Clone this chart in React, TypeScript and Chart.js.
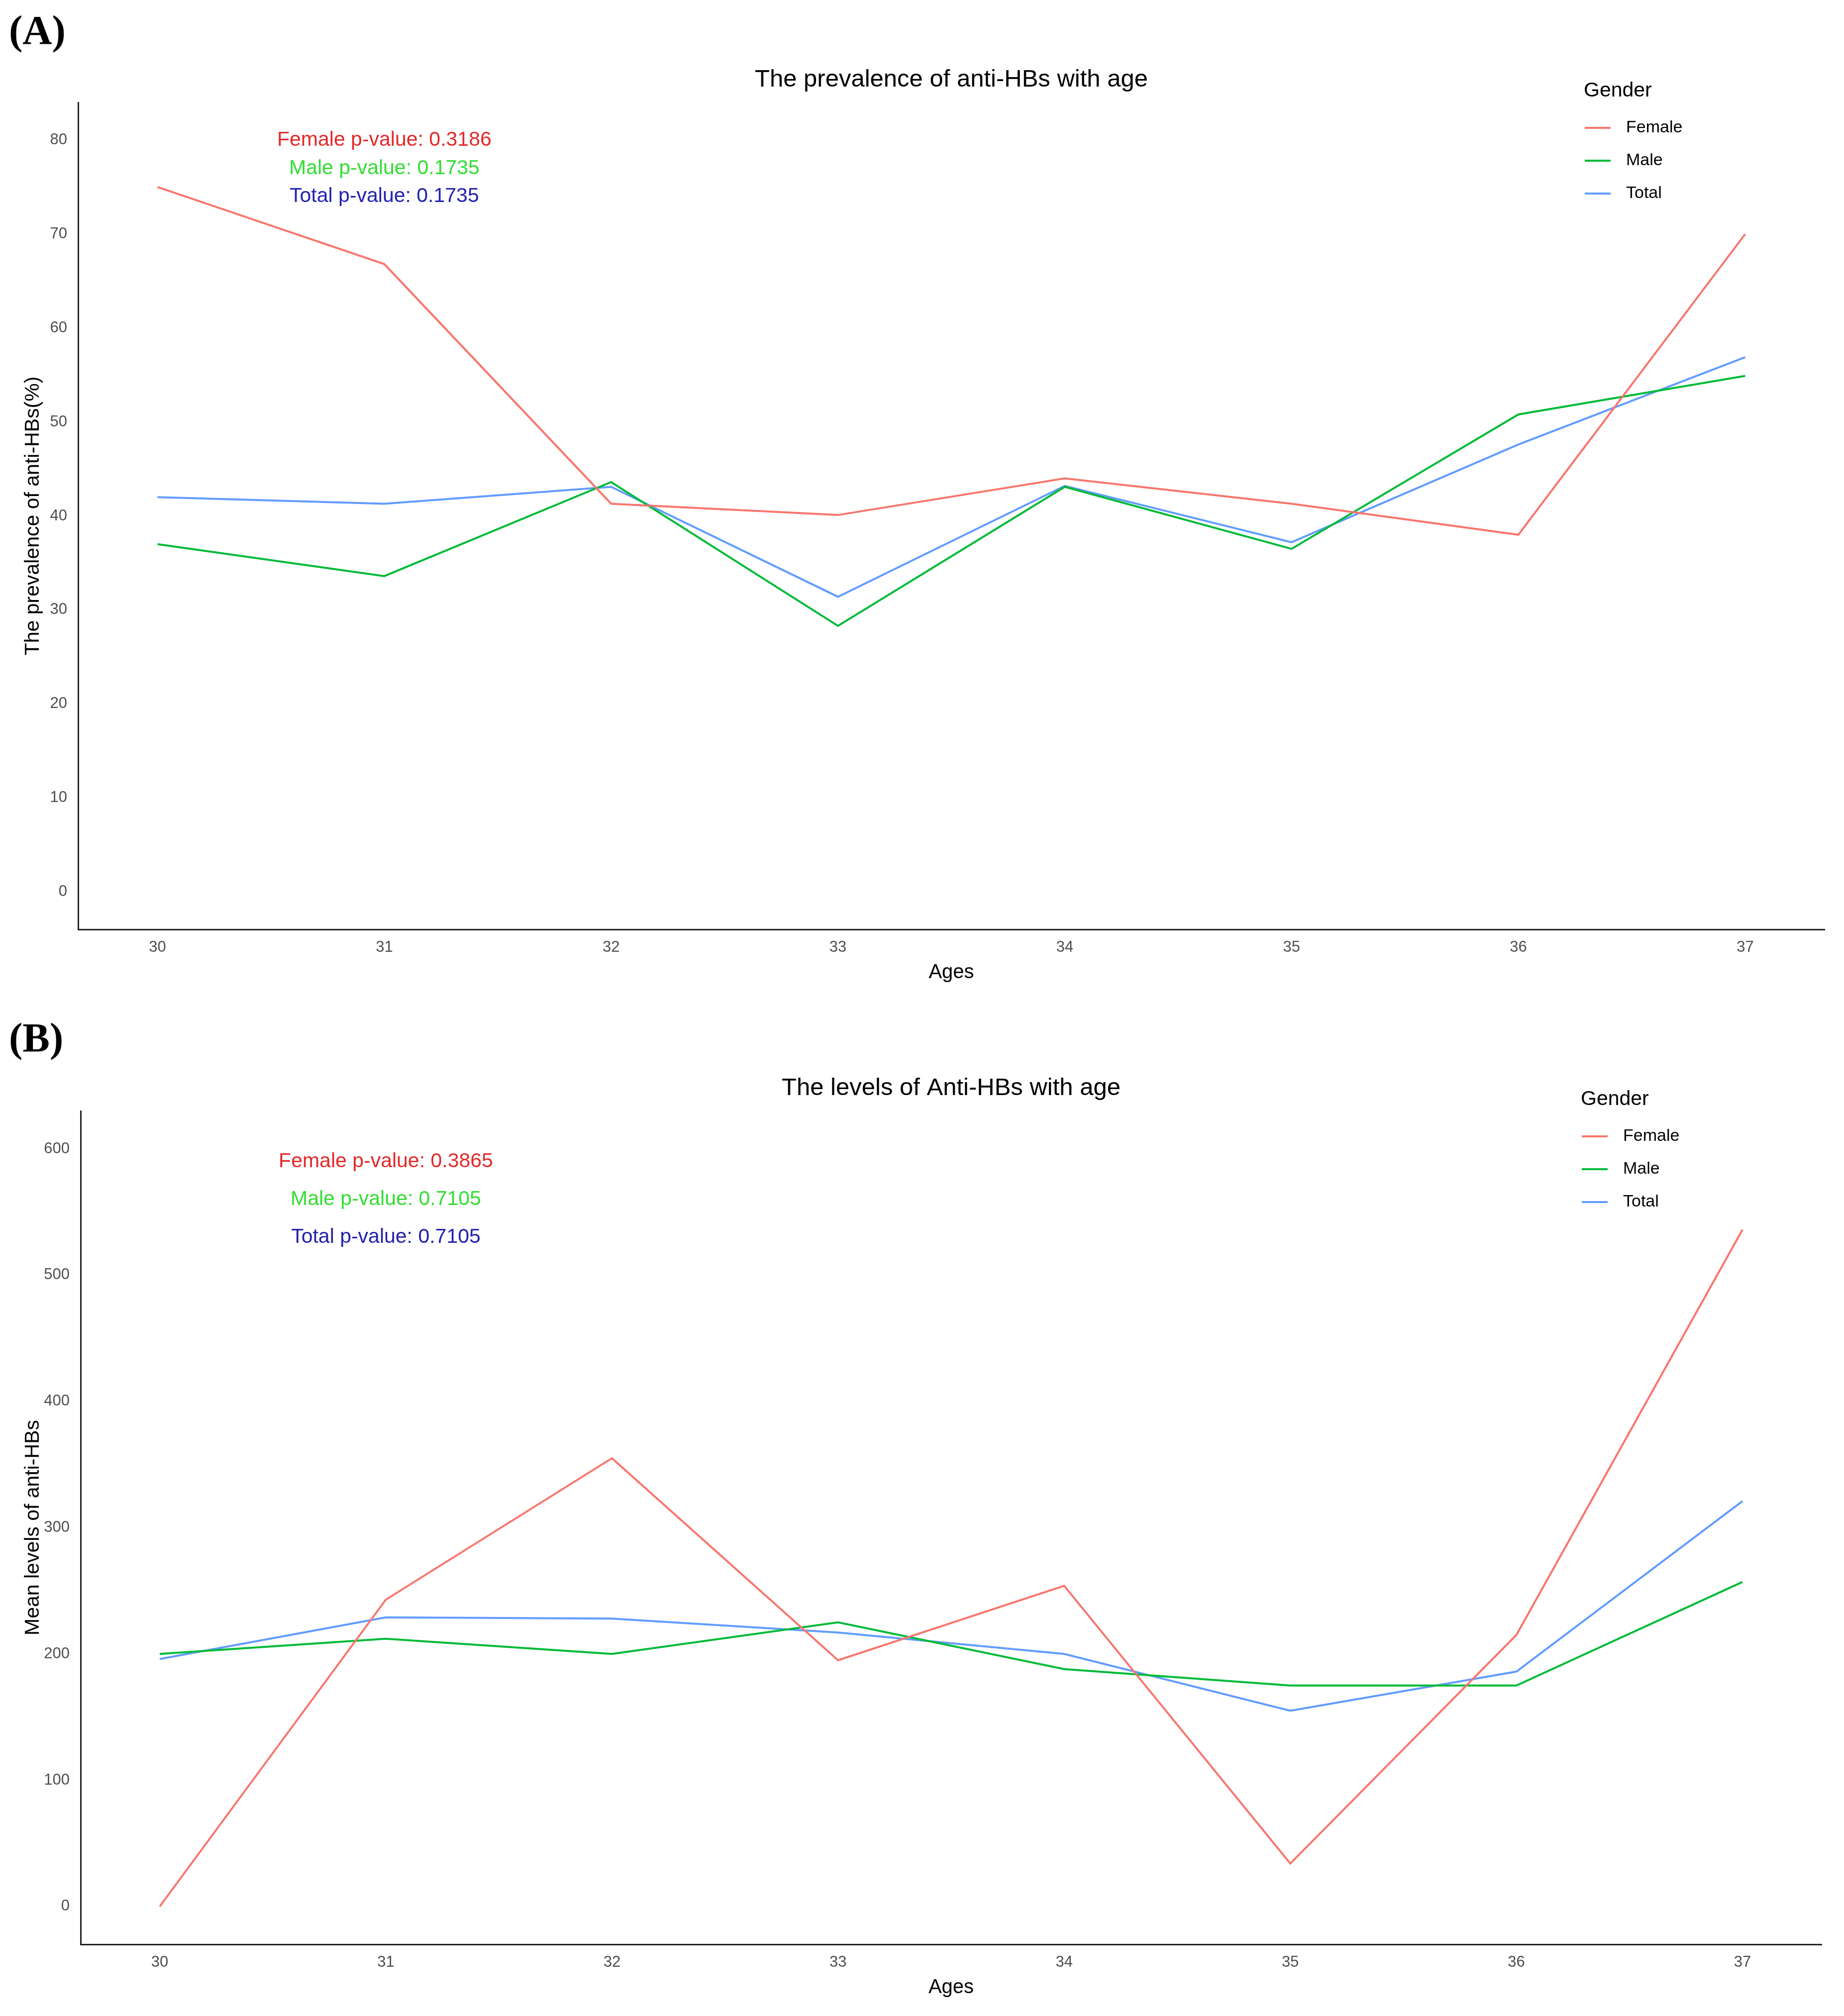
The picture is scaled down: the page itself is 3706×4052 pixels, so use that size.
import { useEffect, useRef } from 'react'
import { Chart, registerables } from 'chart.js'

Chart.register(...registerables)

// ages on the x axis
const ages = [30, 31, 32, 33, 34, 35, 36, 37]
const seriesNames = ['Female', 'Male', 'Total']
const seriesColors = ['#F8766D', '#00BA38', '#619CFF']

// (A) prevalence of anti-HBs (%)
const prevFemale = [75.0, 66.8, 41.3, 40.1, 44.0, 41.3, 38.0, 70.0]
const prevMale = [37.0, 33.6, 43.6, 28.3, 43.1, 36.5, 50.8, 54.9]
const prevTotal = [42.0, 41.3, 43.1, 31.4, 43.2, 37.2, 47.6, 56.9]
const prevTicks = [0, 10, 20, 30, 40, 50, 60, 70, 80]
const prevPLabels = ['Female p-value: 0.3186', 'Male p-value: 0.1735', 'Total p-value: 0.1735']
const prevPY = [80, 77, 74]

// (B) mean levels of anti-HBs
const levFemale = [0, 243, 355, 195, 254, 34, 215, 536]
const levMale = [200, 212, 200, 225, 188, 175, 175, 257]
const levTotal = [196, 229, 228, 217, 200, 155, 186, 321]
const levTicks = [0, 100, 200, 300, 400, 500, 600]
const levPLabels = ['Female p-value: 0.3865', 'Male p-value: 0.7105', 'Total p-value: 0.7105']
const levPY = [590, 560, 530]

const pColors = ['#E22A2A', '#33DD33', '#2222B0']
const FONT = '"Liberation Sans", Arial, sans-serif'

interface PanelProps {
  top: number
  height: number
  chartTop: number
  left: number
  right: number
  titleY: number
  title: string
  yTitle: string
  series: number[][]
  yTicks: number[]
  yMin: number
  yMax: number
  pLabels: string[]
  pY: number[]
  pX: number
}

function Panel(props: PanelProps) {
  const chartRef = useRef<HTMLCanvasElement>(null)
  const chartInstance = useRef<Chart | null>(null)
  const W = 3706

  useEffect(() => {
    if (!chartRef.current) return
    if (chartInstance.current) chartInstance.current.destroy()
    const ctx = chartRef.current.getContext('2d')
    if (!ctx) return

    const titleSize = 49
    const titleLH = titleSize * 1.2

    // p-value labels + legend drawn on top of the plot
    const overlay = {
      id: 'overlay',
      afterDatasetsDraw(chart: any) {
        const c = chart.ctx
        const xs = chart.scales.x
        const ys = chart.scales.y
        const area = chart.chartArea
        c.save()
        c.font = `41px ${FONT}`
        c.textAlign = 'center'
        c.textBaseline = 'middle'
        props.pLabels.forEach((t, i) => {
          c.fillStyle = pColors[i]
          c.fillText(t, xs.getPixelForValue(props.pX), ys.getPixelForValue(props.pY[i]))
        })
        // legend
        const lx = area.right - 484
        c.textAlign = 'left'
        c.fillStyle = '#000'
        c.font = `41px ${FONT}`
        c.fillText('Gender', lx, area.top - 23)
        c.font = `34px ${FONT}`
        chart.data.datasets.forEach((ds: any, i: number) => {
          const y = area.top + 51 + i * 66
          c.strokeStyle = ds.borderColor
          c.lineWidth = 4
          c.beginPath()
          c.moveTo(lx + 2, y)
          c.lineTo(lx + 54, y)
          c.stroke()
          c.fillStyle = '#000'
          c.fillText(ds.label, lx + 85, y)
        })
        c.restore()
      },
    }

    chartInstance.current = new Chart(ctx, {
      type: 'line',
      data: {
        datasets: props.series.map((vals, i) => ({
          label: seriesNames[i],
          data: ages.map((a, j) => ({ x: a, y: vals[j] })),
          borderColor: seriesColors[i],
          backgroundColor: seriesColors[i],
          borderWidth: 4,
          pointRadius: 0,
          tension: 0,
        })),
      },
      options: {
        responsive: false,
        animation: false,
        devicePixelRatio: 1,
        layout: { padding: { left: 0, right: W - props.right, top: 0, bottom: 0 } },
        plugins: {
          legend: { display: false },
          tooltip: { enabled: false },
          title: {
            display: true,
            text: props.title,
            fullSize: false,
            color: '#000',
            font: { family: FONT, size: titleSize, weight: 'normal' },
            padding: {
              top: props.titleY - titleLH / 2,
              bottom: props.chartTop - props.titleY - titleLH / 2,
            },
          },
        },
        scales: {
          x: {
            type: 'linear',
            min: 29.65,
            max: 37.35,
            afterBuildTicks: (scale: any) => {
              scale.ticks = ages.map((v) => ({ value: v }))
            },
            afterFit: (scale: any) => {
              scale.height = 132
            },
            grid: { display: false, drawTicks: false },
            border: { display: true, color: '#222', width: 3 },
            ticks: {
              color: '#4D4D4D',
              padding: 18,
              font: { family: FONT, size: 31 },
              maxRotation: 0,
            },
            title: {
              display: true,
              text: 'Ages',
              color: '#000',
              font: { family: FONT, size: 40 },
              padding: { top: 0, bottom: 21 },
            },
          },
          y: {
            type: 'linear',
            min: props.yMin,
            max: props.yMax,
            afterBuildTicks: (scale: any) => {
              scale.ticks = props.yTicks.map((v) => ({ value: v }))
            },
            afterFit: (scale: any) => {
              scale.width = props.left
            },
            grid: { display: false, drawTicks: false },
            border: { display: true, color: '#222', width: 3 },
            ticks: {
              color: '#4D4D4D',
              padding: 22,
              font: { family: FONT, size: 31 },
            },
            title: {
              display: true,
              text: props.yTitle,
              color: '#000',
              font: { family: FONT, size: 41 },
              padding: { top: 42, bottom: 0 },
            },
          },
        },
      },
      plugins: [overlay],
    })

    return () => {
      if (chartInstance.current) {
        chartInstance.current.destroy()
        chartInstance.current = null
      }
    }
  }, [])

  return (
    <canvas
      ref={chartRef}
      width={W}
      height={props.height}
      style={{ position: 'absolute', left: 0, top: props.top, width: W, height: props.height }}
    />
  )
}

const panelLabel: React.CSSProperties = {
  position: 'absolute',
  left: 18,
  fontFamily: '"Liberation Serif", "Times New Roman", serif',
  fontWeight: 'bold',
  fontSize: 82,
  lineHeight: 1,
  color: '#000',
}

export default function App() {
  return (
    <div style={{ position: 'absolute', left: 0, top: 0, width: 3706, height: 4052, background: '#fff', overflow: 'hidden' }}>
      <div style={{ ...panelLabel, top: 20 }}>(A)</div>
      <div style={{ ...panelLabel, top: 2045 }}>(B)</div>
      <Panel
        top={0}
        height={2000}
        chartTop={206}
        left={157}
        right={3667}
        titleY={160}
        title="The prevalence of anti-HBs with age"
        yTitle="The prevalence of anti-HBs(%)"
        series={[prevFemale, prevMale, prevTotal]}
        yTicks={prevTicks}
        yMin={-4}
        yMax={84}
        pLabels={prevPLabels}
        pY={prevPY}
        pX={31}
      />
      <Panel
        top={2030}
        height={2010}
        chartTop={203}
        left={162}
        right={3661}
        titleY={157}
        title="The levels of Anti-HBs with age"
        yTitle="Mean levels of anti-HBs"
        series={[levFemale, levMale, levTotal]}
        yTicks={levTicks}
        yMin={-30}
        yMax={630}
        pLabels={levPLabels}
        pY={levPY}
        pX={31}
      />
    </div>
  )
}
